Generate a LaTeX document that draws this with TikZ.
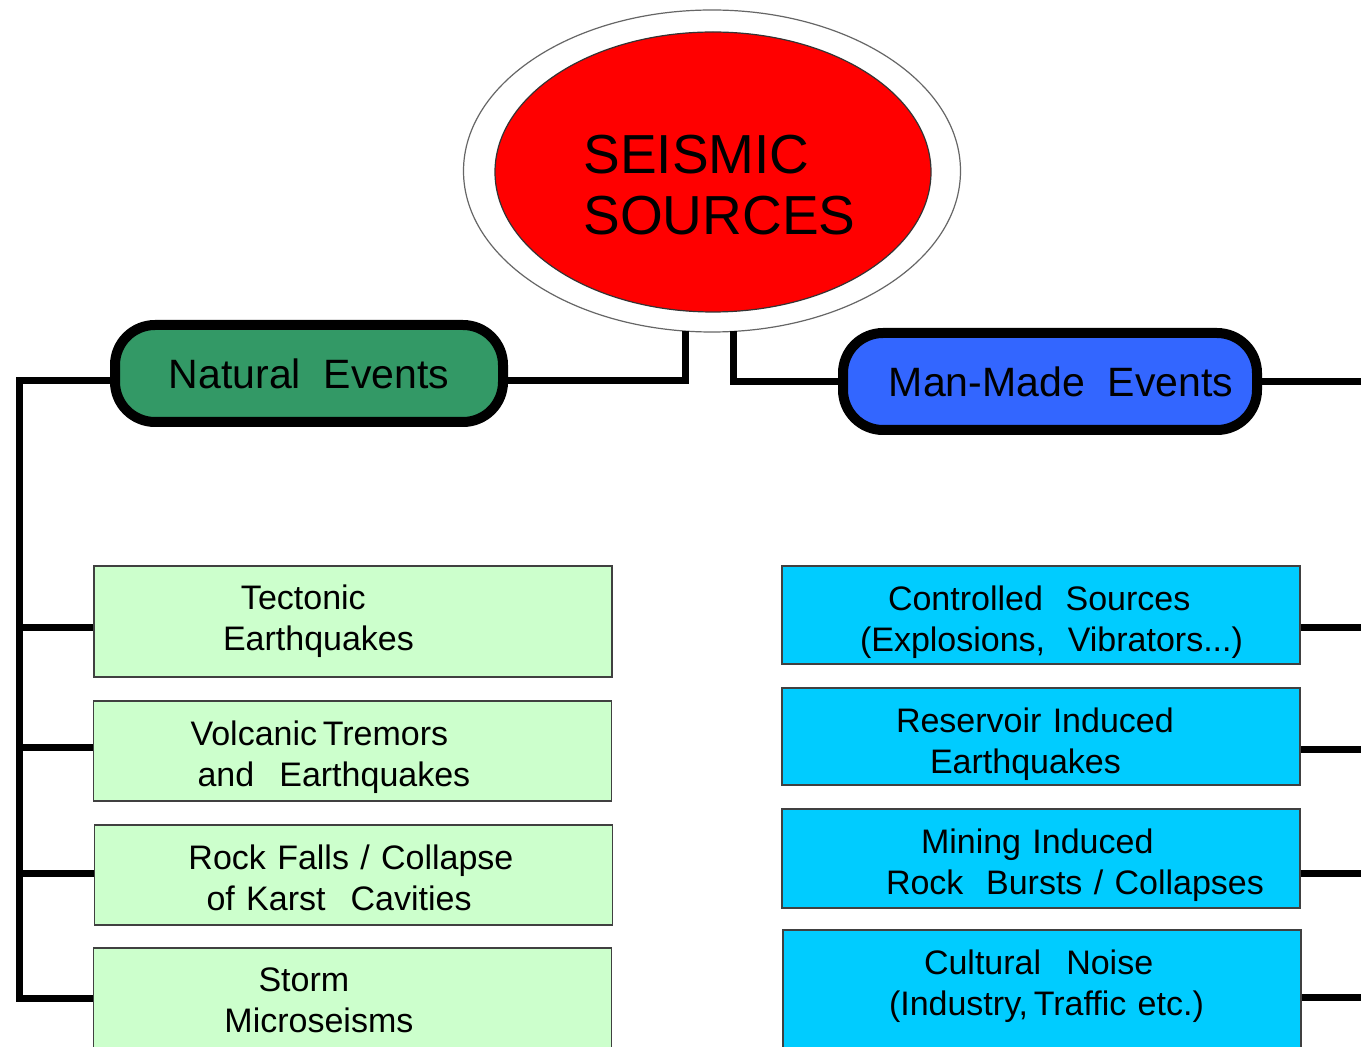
\documentclass[tikz,border=0pt]{standalone}
\usepackage{fontspec}
\setmainfont{Liberation Sans}
\usepackage{tikz}
\usetikzlibrary{
    positioning,
    shapes.geometric
}
\definecolor{pillGreen}{RGB}{51, 153, 102}
\definecolor{pillBlue}{RGB}{51, 102, 255}
\definecolor{boxGreen}{RGB}{204, 255, 204}
\definecolor{boxCyan}{RGB}{0, 204, 255}

\tikzset{
    conn/.style={line width=3.5pt},
    pill/.style={draw, line width=5pt, rounded corners=20pt, minimum height=48.5pt,
        font=\fontsize{20.5}{24}\selectfont},
    natbox/.style={draw=black!75, line width=0.75pt, fill=boxGreen, text width=259pt,
        inner xsep=0pt, inner ysep=0pt, align=left, font=\fontsize{17}{20.5}\selectfont},
    manbox/.style={natbox, fill=boxCyan}
}

\begin{document}
\begin{tikzpicture}[x=0.5pt, y=-0.5pt]
        \useasboundingbox[fill=white] (0,0) rectangle (1361,1047);
        % centre
        \node[ellipse, draw=black!60, line width=0.6pt, fill=white, minimum width=248.5pt,
            minimum height=161pt, inner sep=0pt] (ring) at (712,171) {};
        \node[ellipse, draw=black!80, line width=0.6pt, fill=red, minimum width=218pt,
            minimum height=140pt, inner sep=0pt] (src) at (713,172) {};
        \node[anchor=west, align=left, inner sep=0pt, font=\fontsize{27.5}{30.5}\selectfont]
            (title) at (583,185) {SEISMIC\\SOURCES};
        % events
        \node[pill, fill=pillGreen, minimum width=194pt] (natural) at (309,373.5) {Natural\ \ Events};
        \node[pill, fill=pillBlue, minimum width=207pt] (manmade) at (1050,381.5) {\hspace*{11pt}Man-Made\ \ Events};
        % natural sources
        \node[natbox, minimum height=55.5pt] (tect) at (353,621.5)
            {\hspace*{73.5pt}Tectonic\\\hspace*{64.5pt}Earthquakes};
        \node[natbox, minimum height=50pt] (volc) at (352.5,751)
            {\hspace*{48.5pt}\rule{0pt}{18.4pt}Volcanic\,Tremors\\\hspace*{52pt}and\hspace{0.74em}Earthquakes};
        \node[natbox, minimum height=50pt] (rock) at (353.5,875)
            {\hspace*{47pt}\rule{0pt}{15.4pt}Rock Falls / Collapse\\\hspace*{56pt}of Karst\hspace{0.74em}Cavities};
        \node[natbox, minimum height=55pt] (storm) at (352.5,1003)
            {\hspace*{82.5pt}Storm\\\hspace*{65.5pt}Microseisms\rule[-3pt]{0pt}{3pt}};
        % man-made sources
        \node[manbox, minimum height=49pt] (ctrl) at (1041,615)
            {\hspace*{53pt}\rule{0pt}{19.4pt}Controlled\ \ Sources\\\hspace*{39pt}(Explosions,\ \ Vibrators...)};
        \node[manbox, minimum height=48.5pt] (resv) at (1041,736.5)
            {\hspace*{57pt}\rule{0pt}{20.4pt}Reservoir Induced\\\hspace*{74pt}Earthquakes};
        \node[manbox, minimum height=49.5pt] (mine) at (1041,858.5)
            {\hspace*{69.5pt}\rule{0pt}{19.4pt}Mining Induced\\\hspace*{52pt}Rock\ \ Bursts / Collapses};
        \node[manbox, minimum height=59pt] (cult) at (1042,989)
            {\hspace*{70.5pt}Cultural\hspace{0.74em}Noise\\\hspace*{53pt}(Industry,\,Traffic etc.)\rule[-6.6pt]{0pt}{6.6pt}};
        % connectors
        \coordinate (stubL) at (685,331);
        \coordinate (stubR) at (733,331);
        \coordinate (bendL) at (685,381);
        \coordinate (bendR) at (733,382);
        \draw[conn] (stubL) -- (bendL) -- (bendL -| natural.east);
        \draw[conn] (stubR) -- (bendR) -- (bendR -| manmade.west);
        \coordinate (trunkTop) at (19,381);
        \coordinate (trunkBot) at (19,998);
        \draw[conn] (natural.west |- trunkTop) -- (trunkTop) -- (trunkBot) -- (trunkBot -| storm.west);
        \coordinate (t1) at (19,628);
        \coordinate (t2) at (19,748);
        \coordinate (t3) at (19,873);
        \draw[conn] (t1) -- (t1 -| tect.west);
        \draw[conn] (t2) -- (t2 -| volc.west);
        \draw[conn] (t3) -- (t3 -| rock.west);
        \coordinate (e0) at (1361,382);
        \coordinate (e1) at (1361,628);
        \coordinate (e2) at (1361,750);
        \coordinate (e3) at (1361,873);
        \coordinate (e4) at (1361,997);
        \draw[conn] (manmade.east |- e0) -- (e0);
        \draw[conn] (ctrl.east |- e1) -- (e1);
        \draw[conn] (resv.east |- e2) -- (e2);
        \draw[conn] (mine.east |- e3) -- (e3);
        \draw[conn] (cult.east |- e4) -- (e4);
    \end{tikzpicture}
\end{document}
